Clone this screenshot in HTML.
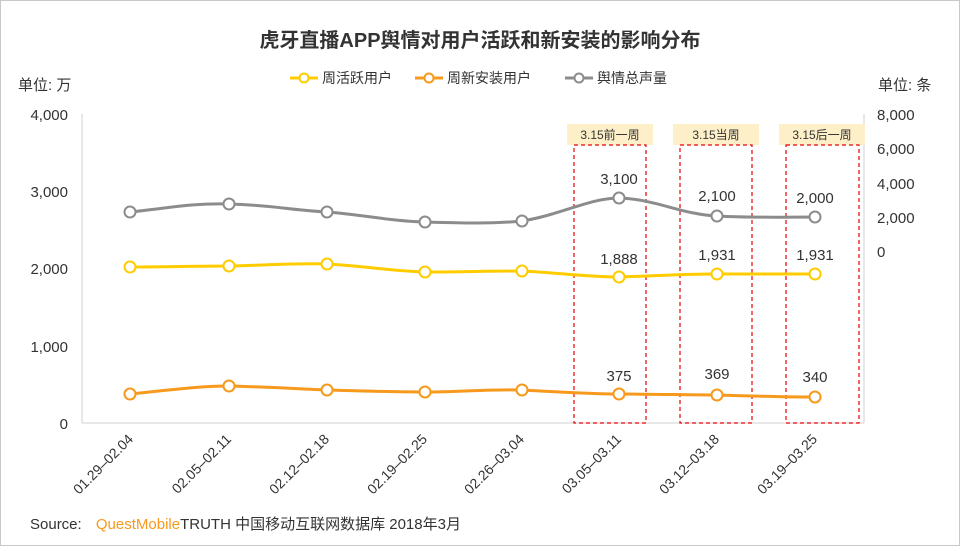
<!DOCTYPE html>
<html><head><meta charset="utf-8"><style>
body{margin:0;background:#fff}
svg text{font-family:"Liberation Sans","Noto Sans CJK SC",sans-serif;fill:#333}
</style></head><body>
<svg width="960" height="546" viewBox="0 0 960 546" xmlns="http://www.w3.org/2000/svg">
<rect x="0.5" y="0.5" width="959" height="545" fill="#fff" stroke="#c8c8c8"/>
<text x="480" y="47" text-anchor="middle" font-size="20" font-weight="bold" fill="#222">虎牙直播APP舆情对用户活跃和新安装的影响分布</text>
<!-- legend -->
<g font-size="14">
<line x1="290" y1="78" x2="318" y2="78" stroke="#ffcc00" stroke-width="3"/><circle cx="304" cy="78" r="4.5" fill="#fff" stroke="#ffcc00" stroke-width="2"/><text x="322" y="83">周活跃用户</text>
<line x1="415" y1="78" x2="443" y2="78" stroke="#f7991c" stroke-width="3"/><circle cx="429" cy="78" r="4.5" fill="#fff" stroke="#f7991c" stroke-width="2"/><text x="447" y="83">周新安装用户</text>
<line x1="565" y1="78" x2="593" y2="78" stroke="#8c8c8c" stroke-width="3"/><circle cx="579" cy="78" r="4.5" fill="#fff" stroke="#8c8c8c" stroke-width="2"/><text x="597" y="83">舆情总声量</text>
</g>
<text x="18" y="90" font-size="15">单位: 万</text>
<text x="878" y="90" font-size="15">单位: 条</text>
<!-- axes -->
<line x1="82" y1="114" x2="82" y2="423" stroke="#d0d0d0"/>
<line x1="82" y1="423" x2="864" y2="423" stroke="#d0d0d0"/>
<line x1="864" y1="114" x2="864" y2="423" stroke="#d0d0d0"/>
<g font-size="15" text-anchor="end">
<text x="68" y="120">4,000</text><text x="68" y="197">3,000</text><text x="68" y="274">2,000</text><text x="68" y="352">1,000</text><text x="68" y="429">0</text>
</g>
<g font-size="15">
<text x="877" y="120">8,000</text><text x="877" y="154">6,000</text><text x="877" y="189">4,000</text><text x="877" y="223">2,000</text><text x="877" y="257">0</text>
</g>
<!-- highlight boxes -->
<g font-size="12" text-anchor="middle">
<rect x="567" y="124" width="86" height="21" fill="#fdefc8"/><text x="610" y="139">3.15前一周</text>
<rect x="673" y="124" width="86" height="21" fill="#fdefc8"/><text x="716" y="139">3.15当周</text>
<rect x="779" y="124" width="86" height="21" fill="#fdefc8"/><text x="822" y="139">3.15后一周</text>
</g>
<g fill="none" stroke="#e60000" stroke-dasharray="4,3" stroke-width="1.2">
<rect x="574" y="145" width="72" height="278"/><rect x="680" y="145" width="72" height="278"/><rect x="786" y="145" width="73" height="278"/>
</g>
<!-- series -->
<g fill="none" stroke-width="3" stroke-linecap="round">
<path d="M130,212 C170,208 190,203 229,204 C270,205 290,210 327,212 C365,215 390,221 425,222 C460,223 490,224 522,221 C560,215 590,198 619,198 C655,199 680,214 717,216 C750,218 790,217 815,217" stroke="#8c8c8c"/>
<path d="M130,267 C170,267 190,266 229,266 C270,265 300,263 327,264 C365,266 390,271 425,272 C460,272 490,271 522,271 C560,273 590,277 619,277 C655,276 680,274 717,274 C750,274 790,274 815,274" stroke="#ffcc00"/>
<path d="M130,394 C170,390 200,386 229,386 C270,387 300,389 327,390 C365,391 390,392 425,392 C460,392 490,389 522,390 C560,392 590,394 619,394 C655,394 690,395 717,395 C750,396 790,397 815,397" stroke="#f7991c"/>
</g>
<g fill="#fff" stroke-width="2">
<g stroke="#8c8c8c"><circle cx="130" cy="212" r="5.5"/><circle cx="229" cy="204" r="5.5"/><circle cx="327" cy="212" r="5.5"/><circle cx="425" cy="222" r="5.5"/><circle cx="522" cy="221" r="5.5"/><circle cx="619" cy="198" r="5.5"/><circle cx="717" cy="216" r="5.5"/><circle cx="815" cy="217" r="5.5"/></g>
<g stroke="#ffcc00"><circle cx="130" cy="267" r="5.5"/><circle cx="229" cy="266" r="5.5"/><circle cx="327" cy="264" r="5.5"/><circle cx="425" cy="272" r="5.5"/><circle cx="522" cy="271" r="5.5"/><circle cx="619" cy="277" r="5.5"/><circle cx="717" cy="274" r="5.5"/><circle cx="815" cy="274" r="5.5"/></g>
<g stroke="#f7991c"><circle cx="130" cy="394" r="5.5"/><circle cx="229" cy="386" r="5.5"/><circle cx="327" cy="390" r="5.5"/><circle cx="425" cy="392" r="5.5"/><circle cx="522" cy="390" r="5.5"/><circle cx="619" cy="394" r="5.5"/><circle cx="717" cy="395" r="5.5"/><circle cx="815" cy="397" r="5.5"/></g>
</g>
<g font-size="15" text-anchor="middle">
<text x="619" y="184">3,100</text><text x="717" y="201">2,100</text><text x="815" y="203">2,000</text>
<text x="619" y="264">1,888</text><text x="717" y="260">1,931</text><text x="815" y="260">1,931</text>
<text x="619" y="381">375</text><text x="717" y="379">369</text><text x="815" y="382">340</text>
</g>
<!-- x labels -->
<g font-size="14" text-anchor="end">
<text transform="translate(134,440) rotate(-45)">01.29–02.04</text>
<text transform="translate(232,440) rotate(-45)">02.05–02.11</text>
<text transform="translate(330,440) rotate(-45)">02.12–02.18</text>
<text transform="translate(428,440) rotate(-45)">02.19–02.25</text>
<text transform="translate(525,440) rotate(-45)">02.26–03.04</text>
<text transform="translate(622,440) rotate(-45)">03.05–03.11</text>
<text transform="translate(720,440) rotate(-45)">03.12–03.18</text>
<text transform="translate(818,440) rotate(-45)">03.19–03.25</text>
</g>
<text x="30" y="529" font-size="15" fill="#444">Source: <tspan dx="10" fill="#f7991c">QuestMobile</tspan><tspan>TRUTH 中国移动互联网数据库 2018年3月</tspan></text>
</svg>
</body></html>
